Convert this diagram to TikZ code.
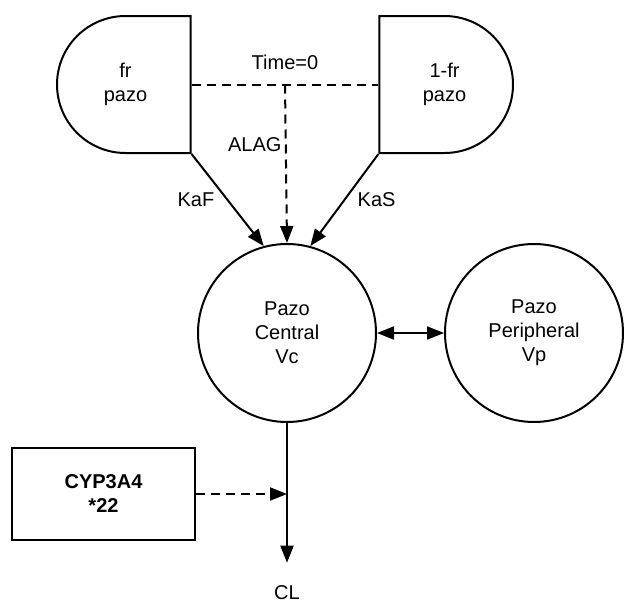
\documentclass[tikz,border=0pt]{standalone}
\usepackage{fontspec}
\setmainfont{Liberation Sans}
\usetikzlibrary{arrows.meta}
\usetikzlibrary{shapes.misc}
\tikzstyle{cmt}=[circle,draw,line width=2pt,minimum size=178pt,align=center]
\tikzstyle{depot}=[rounded rectangle,draw,line width=2pt,minimum width=137pt,minimum height=137pt,align=center]
\tikzstyle{cov}=[draw,line width=2.8pt,minimum width=183pt,minimum height=92pt,align=center,font=\fontsize{20}{24}\selectfont\bfseries]
\tikzstyle{lag}=[dash pattern=on 9pt off 6pt]
\tikzstyle{flowhead}=[>/.tip={Triangle[length=17pt,width=13pt]}]
\tikzstyle{flow}=[line width=2pt,flowhead,->]

\begin{document}
\begin{tikzpicture}[x=1pt,y=-1pt,font=\fontsize{20}{24}\selectfont]
\useasboundingbox (0,0) rectangle (625,603);
\node[depot,rounded rectangle right arc=none] (fr) at (125.5,84.5) {fr\\pazo};
\node[depot,rounded rectangle left arc=none] (sl) at (444.5,84.5) {1-fr\\pazo};
\node[cmt] (pc) at (287,333) {Pazo\\Central\\Vc};
\node[cmt] (pp) at (534,333) {Pazo\\Peripheral\\Vp};
\node[cov] (cyp) at (103.5,494) {CYP3A4\\*22};
\node[inner sep=2pt] (cl) at (287,593) {CL};
% dosing and lag
\draw[lag,line width=2pt] (fr.east) -- coordinate[midway] (t0) node[midway,above=10pt]{Time=0} (sl.west);
\draw[flow,lag] (t0) -- (pc.north) node[pos=0.38,left]{ALAG};
% absorption
\draw[flow] (fr.south east) -- (pc.105) node[midway,left=9pt]{KaF};
\draw[flow] (sl.south west) -- (pc.75) node[midway,right=9pt]{KaS};
% distribution and elimination
\draw[flow,<->] (pc) -- (pp);
\draw[flow,shorten >=21pt] (pc.south) -- (cl.north);
\draw[flow,lag] (cyp.east) -- (cyp.east -| pc.south);
\end{tikzpicture}
\end{document}
